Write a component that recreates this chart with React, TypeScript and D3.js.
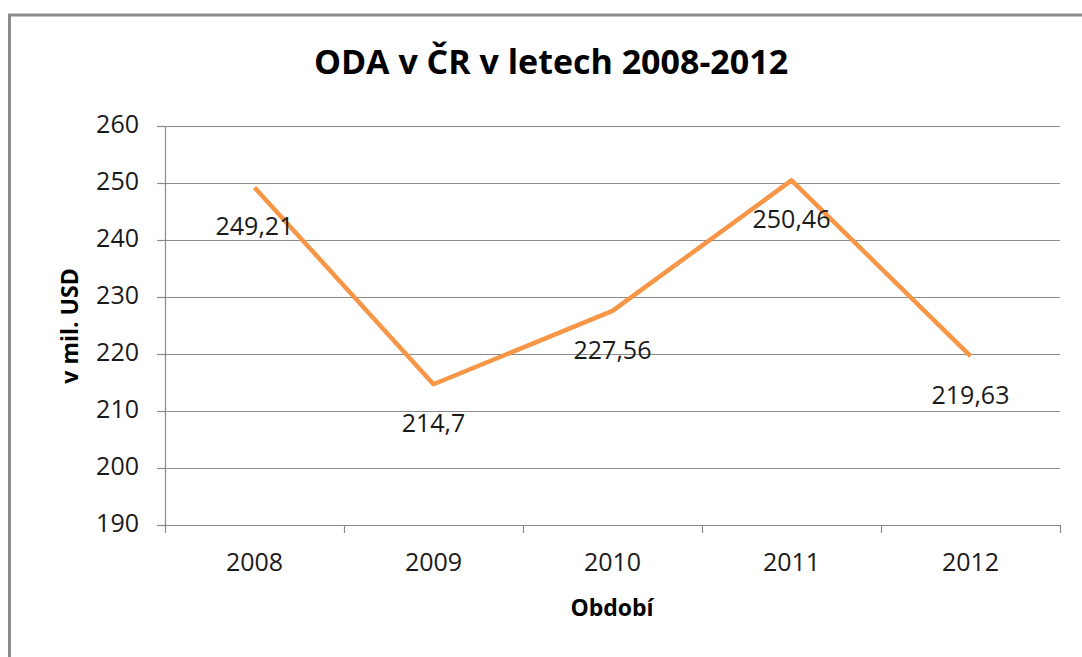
import React, { useEffect, useRef } from 'react';
import * as d3 from 'd3';

const years = ['2008', '2009', '2010', '2011', '2012'];
const values = [249.21, 214.7, 227.56, 250.46, 219.63];
const valueLabels = ['249,21', '214,7', '227,56', '250,46', '219,63'];
const yTicks = [190, 200, 210, 220, 230, 240, 250, 260];

const W = 1082;
const H = 657;
const FONT = "'Open Sans', 'Noto Sans', sans-serif";

export default function App() {
  const ref = useRef<SVGSVGElement | null>(null);

  useEffect(() => {
    const svg = d3.select(ref.current);
    svg.selectAll('*').remove();

    const left = 165, right = 1060, top = 126, bottom = 525;

    const x = d3.scaleBand<string>().domain(years).range([left, right]);
    const y = d3.scaleLinear().domain([190, 260]).range([bottom, top]);

    svg.append('rect').attr('width', W).attr('height', H).attr('fill', '#fff');

    // outer chart frame
    svg.append('rect')
      .attr('x', 9.5).attr('y', 15)
      .attr('width', 1200).attr('height', 800)
      .attr('fill', 'none').attr('stroke', '#8c8c8c').attr('stroke-width', 3);

    svg.append('text')
      .attr('x', 551).attr('y', 65)
      .attr('text-anchor', 'middle').attr('dominant-baseline', 'middle')
      .attr('font-family', FONT).attr('font-weight', 'bold')
      .attr('font-size', 34).attr('fill', '#000')
      .text('ODA v ČR v letech 2008-2012');

    // gridlines
    svg.append('g').selectAll('line')
      .data(yTicks.filter(t => t > 190))
      .enter().append('line')
      .attr('x1', left).attr('x2', right)
      .attr('y1', d => Math.round(y(d)) + 0.5).attr('y2', d => Math.round(y(d)) + 0.5)
      .attr('stroke', '#8a8a8a').attr('stroke-width', 1.2);

    // y axis
    const yAxis = svg.append('g');
    yAxis.append('line')
      .attr('x1', left + 0.5).attr('x2', left + 0.5)
      .attr('y1', top).attr('y2', bottom)
      .attr('stroke', '#8a8a8a').attr('stroke-width', 1.2);
    yAxis.selectAll('line.tick')
      .data(yTicks).enter().append('line').attr('class', 'tick')
      .attr('x1', left - 8).attr('x2', left)
      .attr('y1', d => Math.round(y(d)) + 0.5).attr('y2', d => Math.round(y(d)) + 0.5)
      .attr('stroke', '#8a8a8a').attr('stroke-width', 1.2);
    yAxis.selectAll('text')
      .data(yTicks).enter().append('text')
      .attr('x', 139).attr('y', d => y(d))
      .attr('text-anchor', 'end').attr('dominant-baseline', 'middle')
      .attr('font-family', FONT).attr('font-size', 25).attr('fill', '#1a1a1a')
      .text(d => String(d));

    // x axis
    const xAxis = svg.append('g');
    xAxis.append('line')
      .attr('x1', left).attr('x2', right)
      .attr('y1', bottom + 0.5).attr('y2', bottom + 0.5)
      .attr('stroke', '#8a8a8a').attr('stroke-width', 1.2);
    const bounds = years.map(d => x(d) as number).concat([right]);
    xAxis.selectAll('line.tick')
      .data(bounds).enter().append('line').attr('class', 'tick')
      .attr('x1', d => Math.round(d) + 0.5).attr('x2', d => Math.round(d) + 0.5)
      .attr('y1', bottom).attr('y2', bottom + 8)
      .attr('stroke', '#8a8a8a').attr('stroke-width', 1.2);
    xAxis.selectAll('text')
      .data(years).enter().append('text')
      .attr('x', d => (x(d) as number) + x.bandwidth() / 2)
      .attr('y', 564)
      .attr('text-anchor', 'middle').attr('dominant-baseline', 'middle')
      .attr('font-family', FONT).attr('font-size', 25).attr('fill', '#1a1a1a')
      .text(d => d);

    svg.append('text')
      .attr('x', 612).attr('y', 610)
      .attr('text-anchor', 'middle').attr('dominant-baseline', 'middle')
      .attr('font-family', FONT).attr('font-weight', 'bold')
      .attr('font-size', 23).attr('fill', '#000')
      .text('Období');

    svg.append('text')
      .attr('transform', 'translate(72,326) rotate(-90)')
      .attr('text-anchor', 'middle').attr('dominant-baseline', 'middle')
      .attr('font-family', FONT).attr('font-weight', 'bold')
      .attr('font-size', 23).attr('fill', '#000')
      .text('v mil. USD');

    // series line
    const line = d3.line<number>()
      .x((_, i) => (x(years[i]) as number) + x.bandwidth() / 2)
      .y(d => y(d));
    svg.append('path')
      .datum(values)
      .attr('d', line)
      .attr('fill', 'none')
      .attr('stroke', '#f79646')
      .attr('stroke-width', 4.5)
      .attr('stroke-linejoin', 'round');

    svg.append('g').selectAll('text')
      .data(values).enter().append('text')
      .attr('x', (_, i) => (x(years[i]) as number) + x.bandwidth() / 2)
      .attr('y', d => y(d) + 41)
      .attr('text-anchor', 'middle').attr('dominant-baseline', 'middle')
      .attr('font-family', FONT).attr('font-size', 25).attr('fill', '#1a1a1a')
      .text((_, i) => valueLabels[i]);
  }, []);

  return (
    <svg
      ref={ref}
      width={W}
      height={H}
      style={{ position: 'absolute', left: 0, top: 0, display: 'block' }}
    />
  );
}
